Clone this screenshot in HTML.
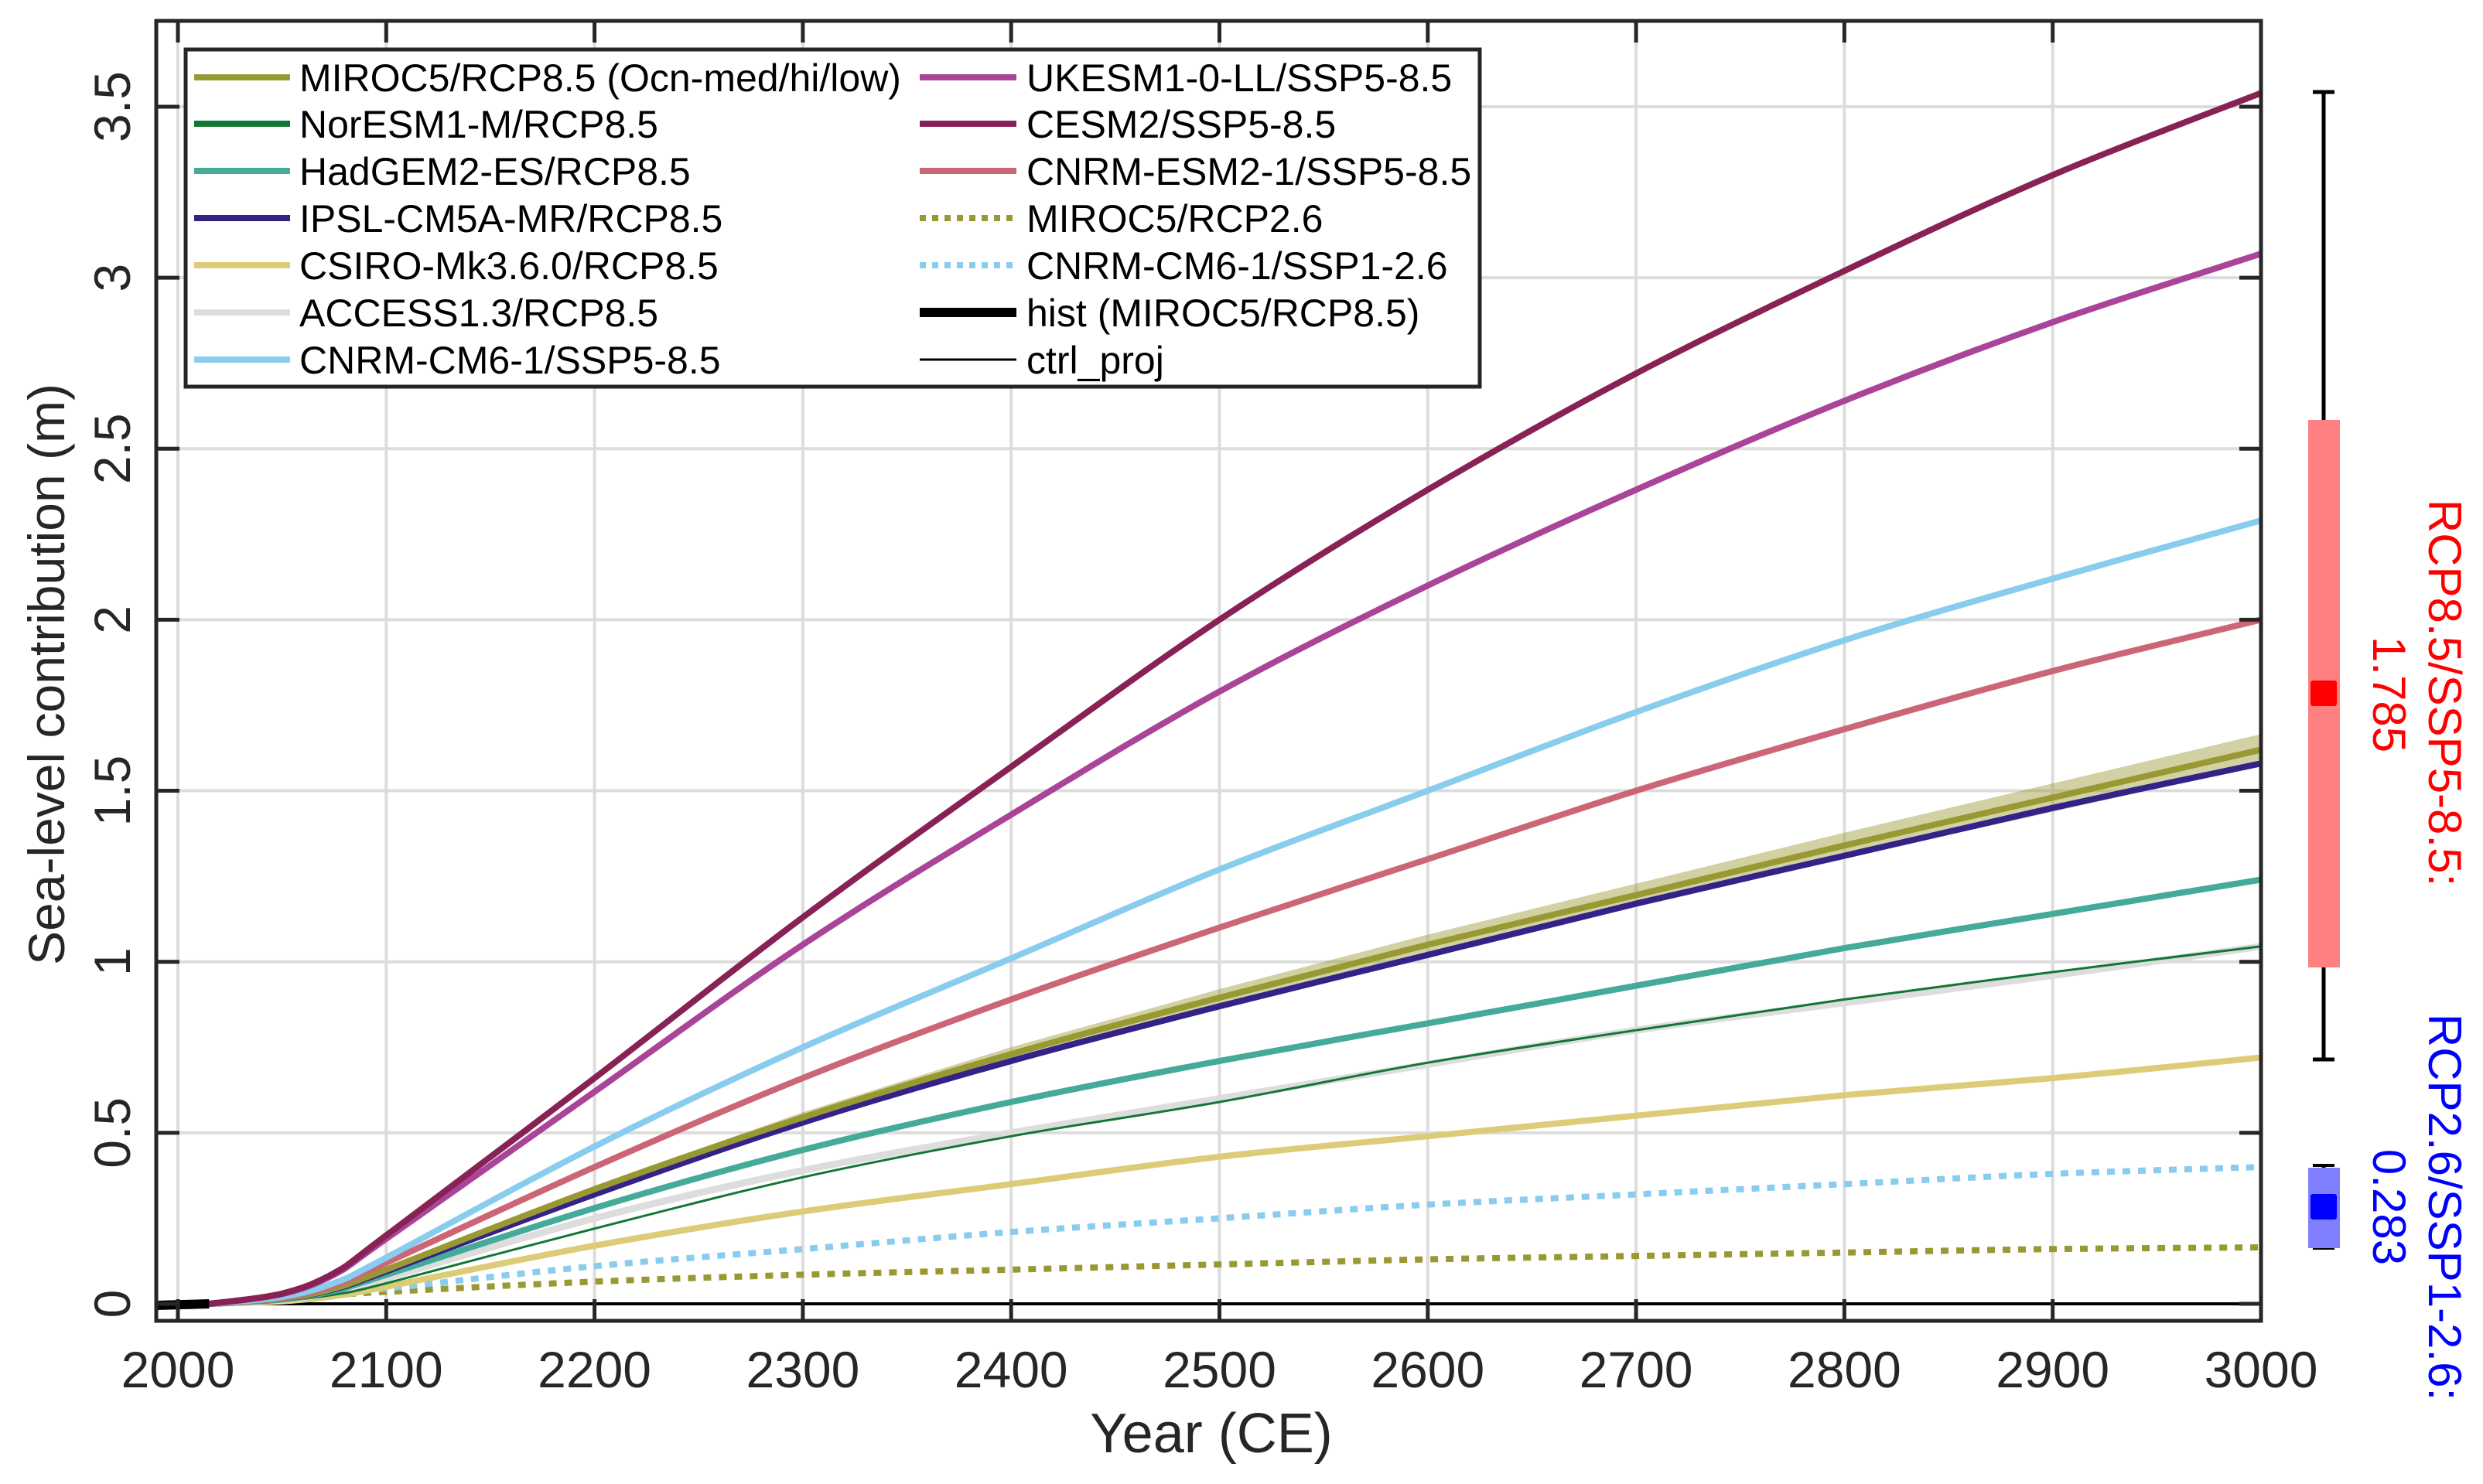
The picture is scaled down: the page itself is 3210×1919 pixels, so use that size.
<!DOCTYPE html>
<html><head><meta charset="utf-8"><style>
html,body{margin:0;padding:0;background:#fff}
svg{display:block}
text{font-family:"Liberation Sans",Arial,sans-serif}
</style></head><body>
<svg id="s" width="3210" height="1919" viewBox="0 0 3210 1919" xmlns="http://www.w3.org/2000/svg">
<rect width="3210" height="1919" fill="#fff"/>
<g id="grid" stroke="#dcdcdc" stroke-width="4"></g>
<g id="curves" fill="none" stroke-linejoin="round"></g>
<g id="frame"></g>
<g id="ticks" fill="#262626" font-size="66"></g>
<text x="1566" y="1878" font-size="72" fill="#262626" text-anchor="middle">Year (CE)</text>
<text transform="translate(83,872) rotate(-90)" font-size="66" fill="#262626" text-anchor="middle">Sea-level contribution (m)</text>
<g id="legend"></g>
<g>
<line x1="3004" y1="119" x2="3004" y2="1370" stroke="#000" stroke-width="5"/>
<line x1="2990" y1="119" x2="3018" y2="119" stroke="#000" stroke-width="5"/>
<line x1="2990" y1="1370" x2="3018" y2="1370" stroke="#000" stroke-width="5"/>
<rect x="2984" y="543" width="41" height="708" fill="#ff8080"/>
<rect x="2987" y="880" width="34" height="33" rx="3" fill="#ff0000"/>
<line x1="3004" y1="1506" x2="3004" y2="1615" stroke="#000" stroke-width="5"/>
<line x1="2990" y1="1507" x2="3018" y2="1507" stroke="#000" stroke-width="4"/>
<line x1="2990" y1="1614" x2="3018" y2="1614" stroke="#000" stroke-width="4"/>
<rect x="2984" y="1510" width="41" height="104" fill="#8080ff"/>
<rect x="2987" y="1544" width="34" height="33" rx="3" fill="#0000ff"/>
<text transform="translate(3140,896) rotate(90)" font-size="60" fill="#ff0000" text-anchor="middle">RCP8.5/SSP5-8.5:</text>
<text transform="translate(3068,898) rotate(90)" font-size="60" fill="#ff0000" text-anchor="middle">1.785</text>
<text transform="translate(3140,1561) rotate(90)" font-size="60" fill="#0000ff" text-anchor="middle">RCP2.6/SSP1-2.6:</text>
<text transform="translate(3068,1561) rotate(90)" font-size="60" fill="#0000ff" text-anchor="middle">0.283</text>
</g>
</svg>
<script>
const NS="http://www.w3.org/2000/svg";
const X=t=>230+(t-2000)*2.693, Y=v=>1686-442.3*v;
function el(tag,attrs,parent,txt){const e=document.createElementNS(NS,tag);for(const k in attrs)e.setAttribute(k,attrs[k]);if(txt!==undefined)e.textContent=txt;document.getElementById(parent).appendChild(e);return e;}
const L=202,R=2923,T=27,B=1708;
for(let t=2000;t<=3000;t+=100){const x=X(t);el('line',{x1:x,y1:T,x2:x,y2:B},'grid');}
for(let v=0;v<=3.5001;v+=0.5){const y=Y(v);el('line',{x1:L,y1:y,x2:R,y2:y},'grid');}
const yrs=[2015,2050,2075,2100,2200,2300,2400,2500,2600,2700,2800,2900,3000];
function series(v2100,rest,dot){const a=dot?[0,0.45*v2100,0.75*v2100]:[0,0.15*v2100,0.45*v2100];return a.concat([v2100],rest);}
function path(vals){const p=yrs.map((t,i)=>[X(t),Y(vals[i])]);let d=`M${p[0][0]},${p[0][1]}`;
for(let i=0;i<p.length-1;i++){const p0=p[Math.max(0,i-1)],p1=p[i],p2=p[i+1],p3=p[Math.min(p.length-1,i+2)];
const c1=[p1[0]+(p2[0]-p0[0])/6,p1[1]+(p2[1]-p0[1])/6],c2=[p2[0]-(p3[0]-p1[0])/6,p2[1]-(p3[1]-p1[1])/6];
d+=` C${c1[0].toFixed(1)},${c1[1].toFixed(1)} ${c2[0].toFixed(1)},${c2[1].toFixed(1)} ${p2[0].toFixed(1)},${p2[1].toFixed(1)}`;}return d;}
el('line',{x1:X(2015),y1:Y(0),x2:R,y2:Y(0),stroke:'#000','stroke-width':4},'curves');
const dot=(v,r)=>series(v,r,true);
const S={
 miroc26:[dot(0.035,[0.065,0.085,0.10,0.115,0.13,0.14,0.15,0.16,0.165]),'#999933',8,true],
 cnrm26:[dot(0.045,[0.11,0.16,0.21,0.25,0.29,0.32,0.35,0.38,0.40]),'#88ccee',8,true],
 csiro:[series(0.05,[0.17,0.27,0.35,0.43,0.49,0.55,0.61,0.66,0.72]),'#ddcc77',8],
 access:[series(0.075,[0.25,0.39,0.50,0.60,0.70,0.80,0.88,0.96,1.045]),'#dddddd',9],
 noresm:[series(0.06,[0.22,0.37,0.49,0.59,0.705,0.80,0.89,0.97,1.045]),'#117733',3],
 hadgem:[series(0.085,[0.28,0.45,0.59,0.71,0.82,0.93,1.04,1.14,1.24]),'#44aa99',8],
 ipsl:[series(0.095,[0.32,0.53,0.71,0.87,1.02,1.17,1.31,1.45,1.58]),'#332288',8],
 miroc85:[series(0.10,[0.335,0.545,0.73,0.895,1.05,1.195,1.34,1.48,1.62]),'#999933',8],
 cnrmesm:[series(0.12,[0.40,0.66,0.89,1.10,1.30,1.50,1.68,1.85,2.0]),'#cc6677',8],
 cnrm85:[series(0.135,[0.46,0.75,1.01,1.27,1.50,1.73,1.94,2.12,2.29]),'#88ccee',8],
 ukesm:[series(0.19,[0.62,1.05,1.43,1.79,2.10,2.38,2.64,2.87,3.07]),'#aa4499',8],
 cesm:[series(0.20,[0.66,1.13,1.57,2.0,2.38,2.72,3.02,3.30,3.54]),'#882255',8]
};
{const v=S.miroc85[0];const up=v.map(a=>a*1.028),lo=v.map(a=>a*0.972);
const p1=yrs.map((t,i)=>`${X(t).toFixed(1)},${Y(up[i]).toFixed(1)}`),p2=yrs.map((t,i)=>`${X(t).toFixed(1)},${Y(lo[i]).toFixed(1)}`).reverse();
el('polygon',{points:p1.concat(p2).join(' '),fill:'#999933','fill-opacity':0.45,stroke:'none'},'curves');}
for(const k in S){const [v,c,w,d]=S[k];const a={d:path(v),stroke:c,'stroke-width':w,fill:'none'};if(d)a['stroke-dasharray']='10 10';el('path',a,'curves');}
el('line',{x1:L,y1:Y(0)+2,x2:X(2015),y2:Y(0),stroke:'#000','stroke-width':12},'curves');
el('rect',{x:L,y:T,width:R-L,height:B-T,fill:'none',stroke:'#262626','stroke-width':5},'frame');
for(let t=2000;t<=3000;t+=100){const x=X(t);el('line',{x1:x,y1:B,x2:x,y2:B-28,stroke:'#262626','stroke-width':5},'frame');el('line',{x1:x,y1:T,x2:x,y2:T+28,stroke:'#262626','stroke-width':5},'frame');
el('text',{x:x,y:1794,'text-anchor':'middle'},'ticks',String(t));}
for(let v=0;v<=3.5001;v+=0.5){const y=Y(v);el('line',{x1:L,y1:y,x2:L+30,y2:y,stroke:'#262626','stroke-width':5},'frame');el('line',{x1:R,y1:y,x2:R-28,y2:y,stroke:'#262626','stroke-width':5},'frame');
const lab=(Math.round(v*10)/10).toString();el('text',{transform:`translate(168,${y}) rotate(-90)`,'text-anchor':'middle'},'ticks',lab);}
el('rect',{x:240,y:64,width:1673,height:436,fill:'#fff',stroke:'#262626','stroke-width':5},'legend');
const c1=[['MIROC5/RCP8.5 (Ocn-med/hi/low)','#999933',8],['NorESM1-M/RCP8.5','#117733',8],['HadGEM2-ES/RCP8.5','#44aa99',8],['IPSL-CM5A-MR/RCP8.5','#332288',8],['CSIRO-Mk3.6.0/RCP8.5','#ddcc77',8],['ACCESS1.3/RCP8.5','#dddddd',8],['CNRM-CM6-1/SSP5-8.5','#88ccee',8]];
const c2=[['UKESM1-0-LL/SSP5-8.5','#aa4499',8],['CESM2/SSP5-8.5','#882255',8],['CNRM-ESM2-1/SSP5-8.5','#cc6677',8],['MIROC5/RCP2.6','#999933',8,1],['CNRM-CM6-1/SSP1-2.6','#88ccee',8,1],['hist (MIROC5/RCP8.5)','#000',12],['ctrl_proj','#000',3]];
const rows=[100,160,221,282,343,404,465];
c1.forEach((r,i)=>{el('line',{x1:251,y1:rows[i],x2:375,y2:rows[i],stroke:r[1],'stroke-width':r[2]},'legend');el('text',{x:387,y:rows[i]+18,'font-size':50,fill:'#000'},'legend',r[0]);});
c2.forEach((r,i)=>{const a={x1:1189,y1:rows[i],x2:1314,y2:rows[i],stroke:r[1],'stroke-width':r[2]};if(r[3])a['stroke-dasharray']='8 8';el('line',a,'legend');el('text',{x:1327,y:rows[i]+18,'font-size':50,fill:'#000'},'legend',r[0]);});
</script>
</body></html>
